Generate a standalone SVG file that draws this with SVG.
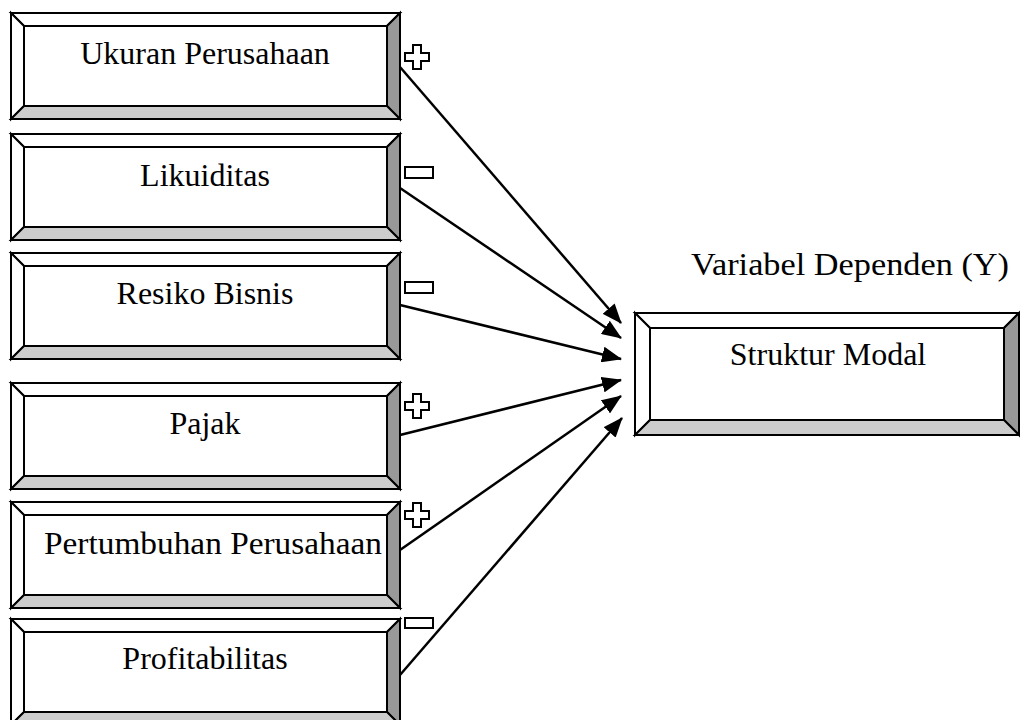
<svg xmlns="http://www.w3.org/2000/svg" xmlns:xlink="http://www.w3.org/1999/xlink" width="1020" height="720" viewBox="0 0 1020 720">
<style>
.o{stroke:#000;stroke-width:2;stroke-linejoin:miter}
.w{fill:#fff}
.d{fill:#999}
.l{fill:#ccc}
.t{font-family:"Liberation Serif","Times New Roman",serif;font-size:32px;fill:#000;text-anchor:middle}
.c{stroke:#000;stroke-width:2.5;fill:none}
.s{fill:#fff;stroke:#000;stroke-width:2}
</style>
<defs>
<g id="bb">
<polygon class="o w" points="0,0 389,0 376,13 13,13"/>
<polygon class="o w" points="0,0 13,13 13,93 0,106"/>
<polygon class="o d" points="389,0 389,106 376,93 376,13"/>
<polygon class="o l" points="0,106 389,106 376,93 13,93"/>
<rect class="o w" x="13" y="13" width="363" height="80"/>
</g>
<path id="plus" d="M8,0 H16 V8 H24 V16 H16 V24 H8 V16 H0 V8 H8 Z"/>
<marker id="ah" markerUnits="userSpaceOnUse" viewBox="0 0 20 16" markerWidth="20" markerHeight="16" refX="19" refY="8" orient="auto">
<path d="M0,0 L20,8 L0,16 Z" fill="#000"/>
</marker>
</defs>
<g id="n1"><use xlink:href="#bb" transform="translate(11,13)"/><text class="t" x="205" y="64">Ukuran Perusahaan</text></g>
<g id="n2"><use xlink:href="#bb" transform="translate(11,134)"/><text class="t" x="205" y="186">Likuiditas</text></g>
<g id="n3"><use xlink:href="#bb" transform="translate(11,253)"/><text class="t" x="205" y="304">Resiko Bisnis</text></g>
<g id="n4"><use xlink:href="#bb" transform="translate(11,383)"/><text class="t" x="205" y="434">Pajak</text></g>
<g id="n5"><use xlink:href="#bb" transform="translate(11,502)"/><text class="t" x="213" y="554" textLength="338" lengthAdjust="spacingAndGlyphs">Pertumbuhan Perusahaan</text></g>
<g id="n6"><use xlink:href="#bb" transform="translate(11,619)"/><text class="t" x="205" y="669">Profitabilitas</text></g>
<g id="target">
<polygon class="o w" points="635,313 1019,313 1004,328 650,328"/>
<polygon class="o w" points="635,313 650,328 650,420 635,435"/>
<polygon class="o d" points="1019,313 1019,435 1004,420 1004,328"/>
<polygon class="o l" points="635,435 1019,435 1004,420 650,420"/>
<rect class="o w" x="650" y="328" width="354" height="92"/>
<text class="t" x="828" y="365">Struktur Modal</text>
</g>
<g id="label"><text class="t" x="850" y="275" textLength="318" lengthAdjust="spacingAndGlyphs">Variabel Dependen (Y)</text></g>
<g id="signs">
<use xlink:href="#plus" class="s" transform="translate(405,45)"/>
<rect class="s" x="405" y="167" width="28" height="11"/>
<rect class="s" x="405" y="282" width="28" height="11"/>
<use xlink:href="#plus" class="s" transform="translate(405,394)"/>
<use xlink:href="#plus" class="s" transform="translate(405,503)"/>
<rect class="s" x="405" y="618" width="28" height="10"/>
</g>
<g id="connectors">
<line class="c" x1="400" y1="67" x2="621" y2="323" marker-end="url(#ah)"/>
<line class="c" x1="400" y1="188" x2="621" y2="338" marker-end="url(#ah)"/>
<line class="c" x1="400" y1="305" x2="621" y2="359" marker-end="url(#ah)"/>
<line class="c" x1="400" y1="435" x2="621" y2="380" marker-end="url(#ah)"/>
<line class="c" x1="400" y1="550" x2="621" y2="396" marker-end="url(#ah)"/>
<line class="c" x1="400" y1="675" x2="622" y2="418" marker-end="url(#ah)"/>
</g>
</svg>
